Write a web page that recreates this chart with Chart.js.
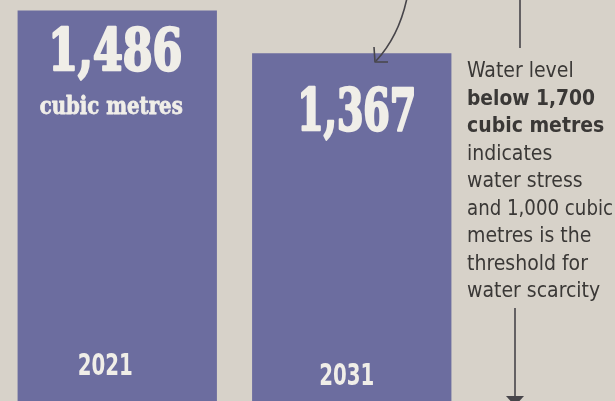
<!DOCTYPE html>
<html>
<head>
<meta charset="utf-8">
<script src="https://cdn.jsdelivr.net/npm/chart.js@4.4.1/dist/chart.umd.min.js"></script>
<style>
  html, body { margin: 0; padding: 0; background: #d7d2c9; overflow: hidden; }
  #wrap { position: relative; width: 615px; height: 401px; }
</style>
</head>
<body>
<div id="wrap"><canvas id="myChart"></canvas></div>
<script>
// per capita water availability (cubic metres)
const years = ['2021', '2031'];
const waterPerCapita = [1486, 1367];
const valueLabels = ['1,486', '1,367'];
const unitLabel = 'cubic metres';
const noteLines = [
  ['Water level', false],
  ['below 1,700', true],
  ['cubic metres', true],
  ['indicates', false],
  ['water stress', false],
  ['and 1,000 cubic', false],
  ['metres is the', false],
  ['threshold for', false],
  ['water scarcity', false]
];

const barColor = '#6c6d9f';
const inkColor = '#f0eee8';
const noteColor = '#3a3836';

// text drawn onto the bars and the note on the right
const barText = {
  id: 'barText',
  afterDatasetsDraw(chart, args, opts) {
    const ctx = chart.ctx;
    const meta = chart.getDatasetMeta(0);
    ctx.save();
    ctx.fillStyle = inkColor;
    ctx.strokeStyle = inkColor;
    ctx.lineJoin = 'round';
    ctx.textAlign = 'center';
    ctx.textBaseline = 'alphabetic';
    meta.data.forEach((bar, i) => {
      ctx.font = 'bold 58px "DejaVu Serif Condensed", "DejaVu Serif", serif';
      ctx.lineWidth = 2.5;
      ctx.fillText(valueLabels[i], bar.x + opts.dx[i], bar.y + opts.valueOffset[i], opts.valueWidth[i]);
      ctx.strokeText(valueLabels[i], bar.x + opts.dx[i], bar.y + opts.valueOffset[i], opts.valueWidth[i]);
      if (i === 0) {
        ctx.font = 'bold 25px "DejaVu Serif Condensed", "DejaVu Serif", serif';
        ctx.lineWidth = 0.8;
        ctx.fillText(unitLabel, bar.x - 6, bar.y + 104, 143);
        ctx.strokeText(unitLabel, bar.x - 6, bar.y + 104, 143);
      }
      ctx.font = 'bold 30px "DejaVu Sans Condensed", "DejaVu Sans", sans-serif';
      ctx.fillText(years[i], bar.x + opts.yearDx[i], opts.yearY[i], 55);
    });

    // note on the right
    ctx.textAlign = 'left';
    ctx.fillStyle = noteColor;
    noteLines.forEach((ln, i) => {
      ctx.font = (ln[1] ? 'bold ' : '') + '21px "DejaVu Sans Condensed", "DejaVu Sans", sans-serif';
      ctx.fillText(ln[0], 467, 77 + i * 27.5, ln[1] ? (i === 1 ? 128 : 141) : 146);
    });

    // arrows
    ctx.strokeStyle = '#47454a';
    ctx.fillStyle = '#47454a';
    ctx.lineWidth = 1.6;
    ctx.beginPath();
    ctx.moveTo(407, -2);
    ctx.quadraticCurveTo(399, 36, 376, 61);
    ctx.stroke();
    ctx.beginPath();
    ctx.moveTo(374, 47);
    ctx.lineTo(375, 62);
    ctx.lineTo(388, 62);
    ctx.stroke();

    ctx.beginPath();
    ctx.moveTo(520, 0);
    ctx.lineTo(520, 48);
    ctx.stroke();

    ctx.beginPath();
    ctx.moveTo(515, 308);
    ctx.lineTo(515, 398);
    ctx.stroke();
    ctx.beginPath();
    ctx.moveTo(506, 396);
    ctx.lineTo(524, 396);
    ctx.lineTo(515, 406);
    ctx.closePath();
    ctx.fill();
    ctx.restore();
  }
};

const ctx = document.getElementById('myChart').getContext('2d');
const myChart = new Chart(ctx, {
  type: 'bar',
  data: {
    labels: years,
    datasets: [{
      label: 'Per capita water availability',
      data: waterPerCapita,
      backgroundColor: barColor,
      borderWidth: 0,
      categoryPercentage: 1,
      barPercentage: 0.85
    }]
  },
  options: {
    responsive: true,
    maintainAspectRatio: false,
    animation: false,
    layout: { padding: { left: 0, right: 146, top: 0, bottom: 0 } },
    scales: {
      x: { display: false },
      y: { display: false, min: 400, max: 1515 }
    },
    plugins: {
      legend: { display: false },
      tooltip: { enabled: false },
      barText: {
        dx: [-2, 5],
        valueOffset: [60, 77],
        valueWidth: [134, 119],
        yearDx: [-12, -5],
        yearY: [375, 385]
      }
    }
  },
  plugins: [barText]
});
</script>
</body>
</html>
